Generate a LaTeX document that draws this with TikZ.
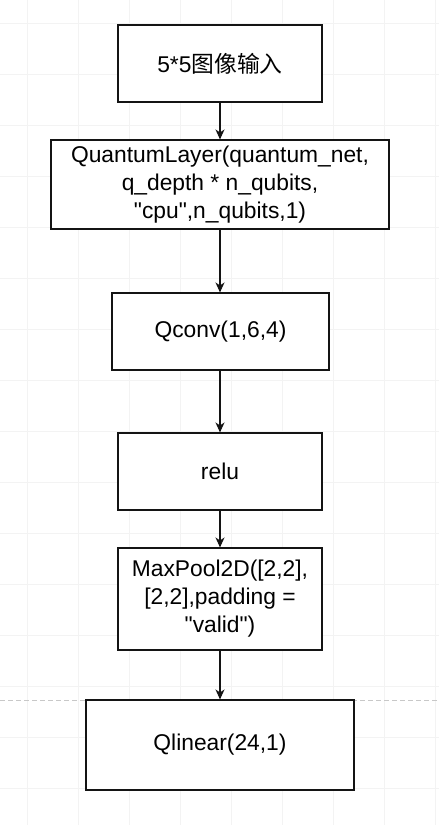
\documentclass[tikz,border=0pt]{standalone}
\usepackage{fontspec}
\setmainfont{Liberation Sans}
\newfontfamily\cjk{Noto Sans CJK SC}
\usetikzlibrary{arrows.meta}
\definecolor{gridc}{RGB}{243,243,243}
\definecolor{pagec}{RGB}{200,200,200}
\definecolor{edgec}{RGB}{20,20,20}
\begin{document}
\begin{tikzpicture}[x=1pt,y=-1pt,
  box/.style={draw=edgec, line width=1.1pt, fill=white, align=center, inner sep=0pt,
              font=\fontsize{22.8}{28}\selectfont},
  conn/.style={draw=edgec, line width=1.1pt, -{Stealth[length=10pt,width=9pt,inset=3pt]}},
  gridline/.style={draw=gridc, line width=0.8pt},
  pageline/.style={draw=pagec, line width=0.8pt, dash pattern=on 5pt off 3pt}]
\useasboundingbox (0,0) rectangle (439,825);
\fill[white] (0,0) rectangle (439,825);
\foreach \x in {27,78,...,435} \draw[gridline] (\x,0) -- (\x,825);
\foreach \y in {23,74,...,790} \draw[gridline] (0,\y) -- (439,\y);
\draw[pageline] (0,700) -- (439,700);

\node[box, minimum width=204pt, minimum height=77pt] (n1) at (220,63.5) {5*5{\cjk 图像输入}};
\node[box, minimum width=338pt, minimum height=89pt] (n2) at (220,184.5)
  {QuantumLayer(quantum\_net,\\q\_depth * n\_qubits,\\\textquotedbl cpu\textquotedbl,n\_qubits,1)};
\node[box, minimum width=217pt, minimum height=77pt] (n3) at (220.5,331.5) {Qconv(1,6,4)};
\node[box, minimum width=204pt, minimum height=77pt] (n4) at (220,471.5) {relu};
\node[box, minimum width=204pt, minimum height=102pt] (n5) at (220,599)
  {MaxPool2D([2,2],\\{}[2,2],padding =\\\textquotedbl valid\textquotedbl)};
\node[box, minimum width=268pt, minimum height=90pt] (n6) at (220,745) {Qlinear(24,1)};

\draw[conn] (n1) -- (n2);
\draw[conn] (n2) -- (n3.north -| n2.south);
\draw[conn] (n3.south -| n2.south) -- (n4);
\draw[conn] (n4) -- (n5);
\draw[conn] (n5) -- (n6);
\end{tikzpicture}
\end{document}
